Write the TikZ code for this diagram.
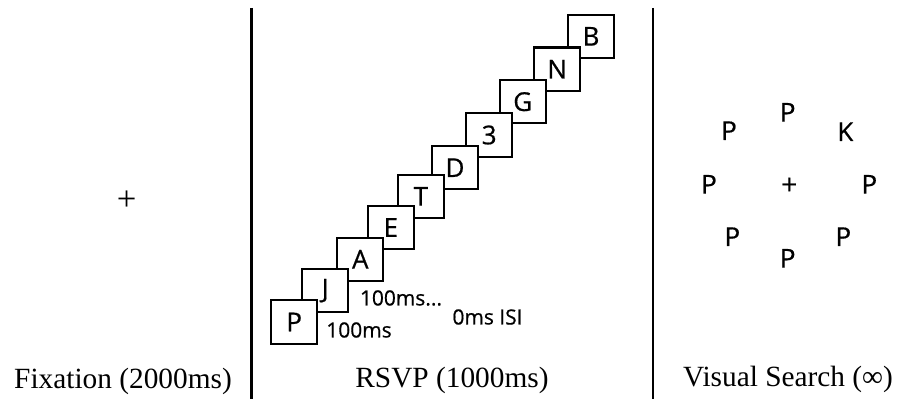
\documentclass[tikz,border=0pt]{standalone}
\usepackage{fontspec}
\setmainfont{Liberation Serif}
\newfontfamily\stimfont[FakeBold=0.6]{Open Sans}
\begin{document}
\begin{tikzpicture}[x=0.75pt,y=-0.75pt,
  frame/.style={draw=black,line width=1.6pt,fill=white,minimum width=34.5pt,
    minimum height=32.5pt,inner sep=0pt,font=\stimfont\fontsize{19.5}{19.5}\selectfont},
  timing/.style={font=\stimfont\fontsize{15.7}{15.7}\selectfont,inner sep=0pt},
  stim/.style={font=\stimfont\fontsize{19.5}{19.5}\selectfont,inner sep=0pt},
  caption/.style={font=\fontsize{22}{22}\selectfont,anchor=base,inner sep=0pt},
  divider/.style={line width=1.7pt}]
\useasboundingbox (0,0) rectangle (899,399);

% panel dividers
\coordinate (d1t) at (251.5,8);
\coordinate (d1b) at (251.5,399);
\coordinate (d2t) at (653.3,8);
\coordinate (d2b) at (653.3,399);
\draw[divider] (d1t) -- (d1b);
\draw[divider] (d2t) -- (d2b);

% fixation panel
\node[font=\fontsize{26}{26}\selectfont,inner sep=0pt] (fixcross) at (126.7,201) {+};
\node[caption] (fixlab) at (123,388) {Fixation (2000ms)};

% RSVP stream, later frames drawn first so earlier ones sit on top
\node[frame] (fB) at (591,36.3) {B};
\node[frame] (fN) at (557.2,69.2) {N};
\node[frame] (fG) at (522.7,101.7) {G};
\node[frame] (f3) at (489.2,135) {3};
\node[frame] (fD) at (455,167.7) {D};
\node[frame] (fT) at (420.8,196.3) {T};
\node[frame] (fE) at (390.8,227.5) {E};
\node[frame] (fA) at (360.3,259.3) {A};
\node[frame] (fJ) at (325.3,290.7) {J};
\node[frame] (fP) at (294.2,322) {P};

\node[timing] (t1) at (359,330) {100ms};
\node[timing] (t2) at (401,298) {100ms...};
\node[timing] (isi) at (487.5,317) {0ms ISI};
\node[caption] (rsvplab) at (452,387) {RSVP (1000ms)};

% visual search display
\node[stim] (s1) at (729,130.7) {P};
\node[stim] (s2) at (787.7,112.3) {P};
\node[stim] (s3) at (845.3,131.7) {K};
\node[stim] (s4) at (709,184.3) {P};
\node[stim,font=\stimfont\fontsize{21}{21}\selectfont] (s5) at (789.3,186) {+};
\node[stim] (s6) at (869.3,184.3) {P};
\node[stim] (s7) at (732.3,236.7) {P};
\node[stim] (s8) at (843.3,236.7) {P};
\node[stim] (s9) at (787.7,258.3) {P};
\node[caption] (vslab) at (788,386) {Visual Search (∞)};
\end{tikzpicture}
\end{document}
